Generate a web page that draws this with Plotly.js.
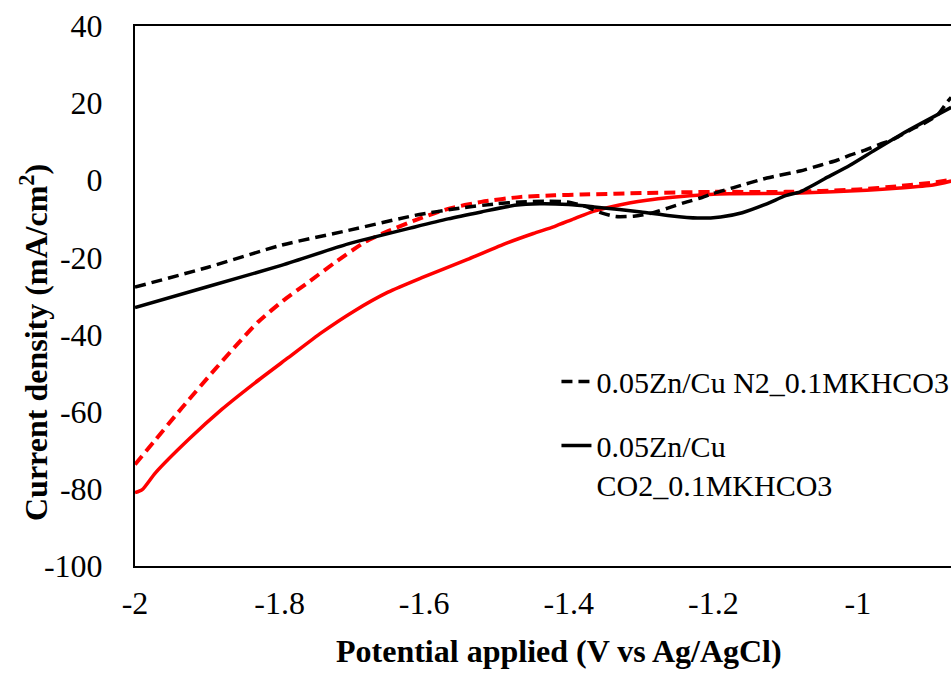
<!DOCTYPE html>
<html>
<head>
<meta charset="utf-8">
<script src="https://cdn.plot.ly/plotly-3.0.1.min.js"></script>
<style>
html, body { margin: 0; padding: 0; overflow: hidden; background: #fff; }
#chart { width: 983px; height: 677px; }
</style>
</head>
<body>
<div id="chart"></div>
<script>
// Black dashed: 0.05Zn/Cu N2_0.1MKHCO3
const n2BlackX = [-2.0, -1.9, -1.797, -1.705, -1.613, -1.55, -1.5, -1.466, -1.43, -1.402, -1.375, -1.356, -1.335, -1.31, -1.285, -1.263, -1.24, -1.218, -1.2, -1.172, -1.126, -1.08, -1.052, -1.029, -1.011, -0.99, -0.97, -0.949, -0.928, -0.908, -0.89, -0.876, -0.871];
const n2BlackY = [-27.7, -22.6, -16.8, -13.0, -9.1, -7.2, -6.1, -5.6, -5.4, -5.6, -6.9, -8.4, -9.4, -9.3, -8.5, -7.2, -5.8, -4.6, -3.4, -1.9, 0.6, 2.4, 3.9, 5.2, 6.5, 7.8, 9.3, 10.8, 13.0, 14.8, 16.9, 20.4, 21.5];

// Black solid: 0.05Zn/Cu CO2_0.1MKHCO3
const co2BlackX = [-2.0, -1.9, -1.8, -1.705, -1.613, -1.567, -1.521, -1.475, -1.44, -1.40, -1.365, -1.33, -1.30, -1.26, -1.222, -1.19, -1.16, -1.126, -1.10, -1.08, -1.046, -1.011, -0.977, -0.942, -0.908, -0.871];
const co2BlackY = [-33.0, -27.6, -22.2, -16.5, -12.1, -10.0, -8.2, -6.5, -6.1, -6.3, -6.9, -7.6, -8.2, -9.2, -9.8, -9.5, -8.4, -6.1, -4.0, -3.0, 0.4, 3.9, 7.8, 11.7, 15.2, 18.9];

// Red dashed
const n2RedX = [-2.0, -1.974, -1.944, -1.926, -1.894, -1.859, -1.829, -1.795, -1.76, -1.724, -1.682, -1.65, -1.613, -1.567, -1.521, -1.466, -1.42, -1.383, -1.292, -1.2, -1.1, -1.0, -0.942, -0.897, -0.871];
const n2RedY = [-73.7, -67.8, -61.0, -57.0, -50.0, -42.6, -36.6, -31.2, -26.4, -21.4, -16.0, -13.2, -10.4, -7.4, -5.6, -4.3, -3.9, -3.7, -3.3, -3.0, -3.0, -2.4, -1.5, -0.6, 0.1];

// Red solid
const co2RedX = [-2.0, -1.99, -1.972, -1.926, -1.88, -1.834, -1.788, -1.742, -1.696, -1.65, -1.604, -1.54, -1.486, -1.449, -1.42, -1.393, -1.365, -1.33, -1.292, -1.264, -1.2, -1.172, -1.08, -0.988, -0.942, -0.896, -0.871];
const co2RedY = [-81.0, -80.2, -75.9, -67.2, -59.4, -52.5, -46.0, -39.5, -33.8, -29.0, -25.3, -20.5, -16.3, -13.8, -12.0, -10.0, -8.0, -6.4, -5.2, -4.5, -3.6, -3.5, -3.3, -2.6, -2.0, -1.2, -0.2];

const xTickVals = [-2, -1.8, -1.6, -1.4, -1.2, -1];
const xTickText = ["-2", "-1.8", "-1.6", "-1.4", "-1.2", "-1"];
const yTickVals = [40, 20, 0, -20, -40, -60, -80, -100];
const yTickText = ["40", "20", "0", "-20", "-40", "-60", "-80", "-100"];

const seriesNames = ["0.05Zn/Cu N2_0.1MKHCO3", "0.05Zn/Cu<br>CO2_0.1MKHCO3"];

const FONT = "Liberation Serif, 'Times New Roman', Times, serif";

const traces = [
  { x: n2RedX, y: n2RedY, mode: "lines", name: "red dashed", showlegend: false,
    line: { color: "#ff0000", width: 4, dash: "11px,6px", shape: "spline", smoothing: 0.6 } },
  { x: co2RedX, y: co2RedY, mode: "lines", name: "red solid", showlegend: false,
    line: { color: "#ff0000", width: 3.5, shape: "spline", smoothing: 0.6 } },
  { x: n2BlackX, y: n2BlackY, mode: "lines", name: seriesNames[0], legendgroup: "a",
    line: { color: "#000000", width: 3.5, dash: "11px,6px", shape: "spline", smoothing: 0.6 } },
  { x: co2BlackX, y: co2BlackY, mode: "lines", name: seriesNames[1], legendgroup: "b",
    line: { color: "#000000", width: 3.5, shape: "spline", smoothing: 0.6 } }
];

const layout = {
  width: 983, height: 677,
  margin: { l: 135, r: 0, t: 26, b: 111, pad: 0 },
  paper_bgcolor: "#ffffff", plot_bgcolor: "#ffffff",
  font: { family: FONT, size: 32, color: "#000000" },
  showlegend: true,
  xaxis: {
    range: [-2, -0.827], tickvals: xTickVals, ticktext: xTickText,
    showgrid: false, zeroline: false, showline: true, linecolor: "#000", linewidth: 2,
    mirror: true, ticks: "", tickfont: { family: FONT, size: 32, color: "#000" },
    ticklabelstandoff: 8, automargin: false
  },
  yaxis: {
    range: [-100, 40], tickvals: yTickVals, ticktext: yTickText,
    showgrid: false, zeroline: false, showline: true, linecolor: "#000", linewidth: 2,
    mirror: true, ticks: "", tickfont: { family: FONT, size: 32, color: "#000" },
    ticklabelstandoff: 24, automargin: false
  },
  legend: {
    x: 0.497, y: 0.39, xanchor: "left", yanchor: "top",
    bgcolor: "rgba(0,0,0,0)", borderwidth: 0,
    font: { family: FONT, size: 30, color: "#000" },
    valign: "top", traceorder: "grouped", tracegroupgap: 22
  },
  annotations: [
    { text: "<b>Potential applied (V vs Ag/AgCl)</b>", xref: "paper", yref: "paper",
      x: 0.5, y: -0.157, xanchor: "center", yanchor: "middle", showarrow: false,
      font: { family: FONT, size: 32, color: "#000" } },
    { text: "<b>Current density (mA/cm<sup>2</sup>)</b>", xref: "paper", yref: "paper",
      x: (34 - 135) / 848, y: (566 - 343) / 540, xanchor: "center", yanchor: "middle",
      textangle: -90, showarrow: false,
      font: { family: FONT, size: 32, color: "#000" } }
  ]
};

Plotly.newPlot("chart", traces, layout, { displayModeBar: false, staticPlot: true });
</script>
</body>
</html>
